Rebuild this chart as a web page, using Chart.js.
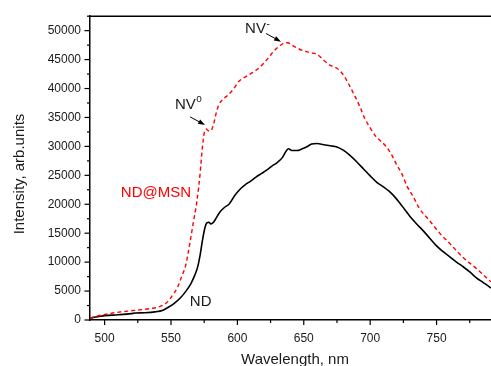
<!DOCTYPE html>
<html>
<head>
<meta charset="utf-8">
<script src="https://cdn.jsdelivr.net/npm/chart.js@4"></script>
<style>
  html, body { margin: 0; padding: 0; background: #fff; }
  #chart { display: block; }
</style>
</head>
<body>
<canvas id="chart" width="491" height="366"></canvas>
<script>
// ND (black, solid)
let ndWavelength = [489, 495, 500, 510, 520, 523, 530, 538, 544, 548, 552, 557, 561, 565, 568, 570, 572, 573.5, 575.5, 577, 578.5, 580, 582, 584, 587, 590, 594, 598, 602, 606, 610, 614, 618, 622, 626, 630, 634, 637, 638.5, 641, 645, 648, 652, 656, 660, 665, 670, 675, 680, 685, 690, 695, 700, 705, 710, 714, 718, 722, 726, 730, 735, 740, 745, 750, 755, 760, 765, 770, 775, 780, 785, 790, 791]
let ndIntensity = [350, 550, 750, 900, 1100, 1200, 1250, 1400, 1700, 2200, 2800, 3800, 4900, 6300, 7800, 9100, 11300, 13500, 15900, 16800, 16900, 16600, 16900, 17600, 18700, 19400, 20100, 21500, 22600, 23400, 24000, 24700, 25300, 25900, 26600, 27200, 28100, 29300, 29600, 29300, 29300, 29500, 29900, 30400, 30500, 30300, 30100, 29900, 29300, 28400, 27300, 26100, 24900, 23800, 23000, 22300, 21400, 20300, 19100, 17900, 16600, 15400, 14100, 12800, 11800, 10900, 10000, 9200, 8300, 7300, 6500, 5700, 5500]

// ND@MSN (red, dashed)
let msnWavelength = [489, 493, 500, 506, 512, 520, 528, 535, 540, 545, 548, 551, 555, 558, 561, 564, 567, 569.5, 572, 573.5, 575, 576.5, 578, 580, 582, 584, 586, 589, 593, 597, 601, 606, 611, 616, 620, 624, 628, 632, 636, 638, 641, 645, 650, 655, 660, 665, 670, 675, 680, 684, 688, 692, 696, 700, 704, 708, 712, 716, 720, 724, 728, 732, 737, 745, 752, 760, 770, 780, 790, 791]
let msnIntensity = [300, 600, 950, 1200, 1400, 1600, 1800, 2000, 2200, 2700, 3300, 4200, 5700, 7500, 9400, 13000, 17100, 20500, 25500, 29500, 32300, 33000, 32700, 32700, 33800, 35700, 37200, 38100, 38900, 39900, 41200, 42000, 42700, 43500, 44400, 45500, 46600, 47400, 47900, 47900, 47500, 47000, 46500, 46200, 45900, 44900, 44000, 43500, 42300, 40700, 38900, 37000, 34800, 33200, 31800, 30900, 30000, 28600, 26800, 25200, 23000, 21500, 19300, 17100, 15100, 13200, 10800, 8900, 6800, 6600]

let xTicks = [500, 525, 550, 575, 600, 625, 650, 675, 700, 725, 750, 775]
let yTicks = [0, 2500, 5000, 7500, 10000, 12500, 15000, 17500, 20000, 22500, 25000, 27500, 30000, 32500, 35000, 37500, 40000, 42500, 45000, 47500, 50000, 52500]

const FONT = "'Liberation Sans', Arial, sans-serif"
const TEXT = '#1a1a1a'

function pts(xs, ys) {
   return xs.map((x, i) => ({x: x, y: ys[i]}))
}

// axis frame, outward ticks, titles and labels
const decor = {
   id: 'decor',
   afterDraw(chart) {
      const ctx = chart.ctx
      const xs = chart.scales.x, ys = chart.scales.y
      const area = chart.chartArea
      ctx.save()
      ctx.strokeStyle = '#000'
      ctx.lineWidth = 1.5
      ctx.beginPath()
      ctx.moveTo(area.left, area.top)
      ctx.lineTo(area.right, area.top)
      ctx.stroke()
      ctx.lineWidth = 1.2
      xTicks.forEach(v => {
         let px = xs.getPixelForValue(v)
         let len = v % 50 === 0 ? 5 : 3
         ctx.beginPath()
         ctx.moveTo(px, area.bottom)
         ctx.lineTo(px, area.bottom + len)
         ctx.stroke()
      })
      yTicks.forEach(v => {
         let py = ys.getPixelForValue(v)
         let len = v % 5000 === 0 ? 5.5 : 3
         ctx.beginPath()
         ctx.moveTo(area.left, py)
         ctx.lineTo(area.left - len, py)
         ctx.stroke()
      })

      // axis titles
      ctx.fillStyle = TEXT
      ctx.font = '15px ' + FONT
      ctx.textAlign = 'center'
      ctx.textBaseline = 'alphabetic'
      ctx.fillText('Wavelength, nm', 295, 364)
      ctx.save()
      ctx.translate(24, 174)
      ctx.rotate(-Math.PI / 2)
      ctx.fillText('Intensity, arb.units', 0, 0)
      ctx.restore()

      // annotations
      ctx.textAlign = 'left'
      ctx.textBaseline = 'middle'
      function label(txt, sup, x, y, color) {
         let px = xs.getPixelForValue(x), py = ys.getPixelForValue(y)
         ctx.fillStyle = color
         ctx.font = '15px ' + FONT
         ctx.fillText(txt, px, py)
         if (sup) {
            let w = ctx.measureText(txt).width
            ctx.font = '10px ' + FONT
            ctx.fillText(sup, px + w + 0.5, py - 5)
         }
      }
      label('NV', 'o', 553, 37200, TEXT)
      label('NV', '-', 605.8, 50300, TEXT)
      label('ND@MSN', null, 512.2, 22000, '#ff0000')
      label('ND', null, 564.2, 3100, TEXT)

      function arrow(x0, y0, x1, y1) {
         let a = xs.getPixelForValue(x0), b = ys.getPixelForValue(y0)
         let c = xs.getPixelForValue(x1), d = ys.getPixelForValue(y1)
         let ang = Math.atan2(d - b, c - a)
         ctx.strokeStyle = '#000'
         ctx.fillStyle = '#000'
         ctx.lineWidth = 1
         ctx.beginPath()
         ctx.moveTo(a, b)
         ctx.lineTo(c - 5 * Math.cos(ang), d - 5 * Math.sin(ang))
         ctx.stroke()
         ctx.beginPath()
         ctx.moveTo(c, d)
         ctx.lineTo(c - 7 * Math.cos(ang) + 2.5 * Math.sin(ang), d - 7 * Math.sin(ang) - 2.5 * Math.cos(ang))
         ctx.lineTo(c - 7 * Math.cos(ang) - 2.5 * Math.sin(ang), d - 7 * Math.sin(ang) + 2.5 * Math.cos(ang))
         ctx.closePath()
         ctx.fill()
      }
      arrow(564.4, 35100, 575.7, 33700)
      arrow(621.6, 49500, 632.9, 48100)
      ctx.restore()
   }
}

let chart = new Chart(document.getElementById('chart'), {
   type: 'line',
   data: {
      datasets: [
         {label: 'ND@MSN', data: pts(msnWavelength, msnIntensity), borderColor: '#ff0000', borderWidth: 1.4, borderDash: [4, 3], pointRadius: 0, cubicInterpolationMode: 'monotone', fill: false},
         {label: 'ND', data: pts(ndWavelength, ndIntensity), borderColor: '#000000', borderWidth: 1.6, pointRadius: 0, cubicInterpolationMode: 'monotone', fill: false}
      ]
   },
   options: {
      responsive: false,
      animation: false,
      devicePixelRatio: 1,
      layout: {padding: {top: 13, right: 0, left: 0, bottom: 0}},
      plugins: {legend: {display: false}, tooltip: {enabled: false}},
      scales: {
         x: {
            type: 'linear', min: 489, max: 791,
            afterBuildTicks: s => { s.ticks = xTicks.map(v => ({value: v})) },
            afterFit: s => { s.height = 46 },
            grid: {display: false, drawTicks: false},
            border: {display: true, color: '#000', width: 1.5},
            ticks: {autoSkip: false, maxRotation: 0, padding: 11, color: TEXT, font: {family: FONT, size: 12},
               callback: v => v % 50 === 0 ? String(v) : ''}
         },
         y: {
            type: 'linear', min: 0, max: 52500,
            afterBuildTicks: s => { s.ticks = yTicks.map(v => ({value: v})) },
            afterFit: s => { s.width = 90 },
            grid: {display: false, drawTicks: false},
            border: {display: true, color: '#000', width: 1.5},
            ticks: {autoSkip: false, padding: 9, color: TEXT, font: {family: FONT, size: 12},
               callback: v => v % 5000 === 0 ? String(v) : ''}
         }
      }
   },
   plugins: [decor]
});
</script>
</body>
</html>
